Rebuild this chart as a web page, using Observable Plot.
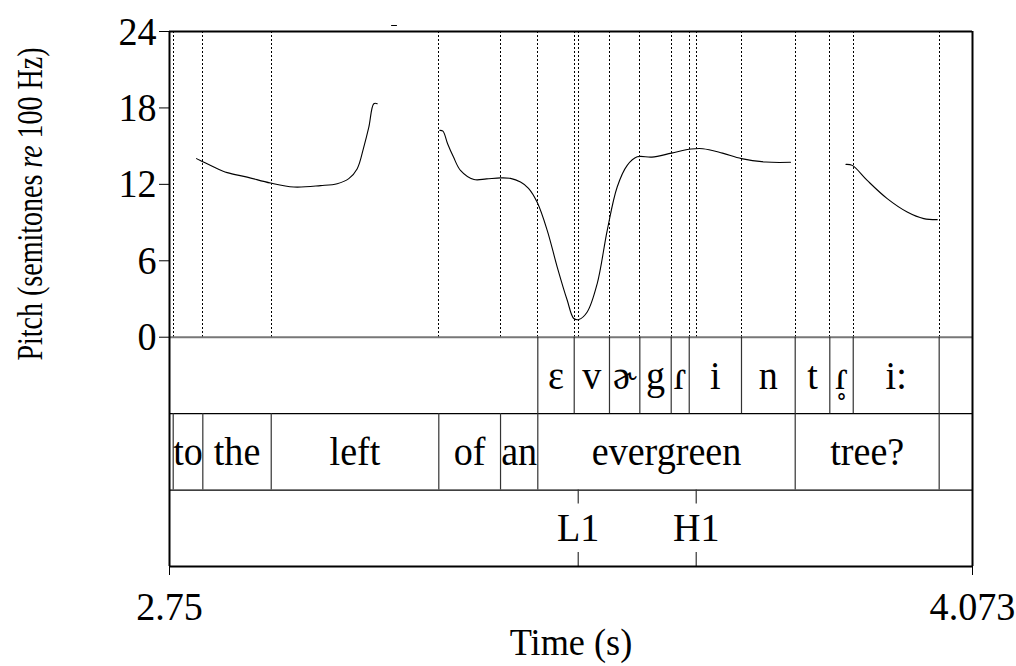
<!DOCTYPE html>
<html><head><meta charset="utf-8">
<script src="https://cdn.jsdelivr.net/npm/d3@7"></script>
<script src="https://cdn.jsdelivr.net/npm/@observablehq/plot@0.6"></script>
<style>body{margin:0;background:#fff}</style>
</head><body><div id="chart"></div>
<script>
// ---- data ----
const xDomain = [2.75, 4.073];
const xTicks = [2.75, 4.073];
const yTicks = [0, 6, 12, 18, 24];

// pitch contour segments (time s, semitones re 100 Hz)
const seg1Time = [2.7945, 2.8039, 2.8230, 2.8451, 2.8780, 2.9164, 2.9548, 2.9988, 3.0263, 3.0454, 3.0593, 3.0701, 3.0784, 3.0866, 3.0922];
const seg1Pitch = [14.02, 13.80, 13.36, 12.92, 12.57, 12.10, 11.79, 11.90, 12.05, 12.45, 13.23, 14.93, 16.49, 18.33, 18.33];
const seg2Time = [3.1158, 3.1240];
const seg2Pitch = [24.47, 24.47];
const seg3Time = [3.1954, 3.2005, 3.2082, 3.2179, 3.2294, 3.2517, 3.2723, 3.2954, 3.3118, 3.3283, 3.3415, 3.3558, 3.3723, 3.3888, 3.4053, 3.4161, 3.4244, 3.4382, 3.4547, 3.4712, 3.4876, 3.5041, 3.5206, 3.5448, 3.5771, 3.6094, 3.6288, 3.6611, 3.6924, 3.7325, 3.7732];
const seg3Pitch = [16.24, 16.18, 15.19, 14.14, 13.10, 12.38, 12.43, 12.51, 12.47, 12.18, 11.69, 10.59, 8.39, 5.51, 2.90, 1.47, 1.39, 1.98, 4.21, 8.39, 11.79, 13.49, 14.16, 14.14, 14.45, 14.77, 14.80, 14.45, 14.02, 13.75, 13.73];
const seg4Time = [3.8646, 3.8749, 3.8995, 3.9325, 3.9654, 3.9928, 4.0149];
const seg4Pitch = [13.57, 13.49, 12.31, 10.88, 9.83, 9.31, 9.23];

// phone tier
const phoneLabels = ["", "ɛ", "v", "ɚ", "g", "ɾ", "i", "n", "t", "ɾ̥", "i:", ""];
const phoneBounds = [2.75, 3.3568, 3.4168, 3.4749, 3.5249, 3.5766, 3.6063, 3.6924, 3.7809, 3.8379, 3.8765, 4.0181, 4.073];
// word tier
const wordLabels = ["", "to", "the", "left", "of", "an", "evergreen", "tree?", ""];
const wordBounds = [2.75, 2.7561, 2.8049, 2.9176, 3.1937, 3.2954, 3.3568, 3.7809, 4.0181, 4.073];
// tone tier (points)
const toneLabels = ["L1", "H1"];
const toneTimes = [3.4234, 3.6178];

// ---- build tables ----
const segs = [[seg1Time, seg1Pitch], [seg2Time, seg2Pitch], [seg3Time, seg3Pitch], [seg4Time, seg4Pitch]];
const pitch = segs.flatMap(([t, p], s) => t.map((ti, i) => ({t: ti, st: p[i], seg: s})));
const RING = "\u0325";
const intervals = (bounds, labels) => labels.map((l, i) => ({
  mid: (bounds[i] + bounds[i + 1]) / 2,
  label: l.replace(RING, ""),
  ring: l.includes(RING) ? "\u02F3" : ""
}));
const phones = intervals(phoneBounds, phoneLabels);
const words = intervals(wordBounds, wordLabels);
const tones = toneTimes.map((t, i) => ({t, label: toneLabels[i]}));
const phoneInner = phoneBounds.slice(1, -1);
const wordInner = wordBounds.slice(1, -1);
const dotTimes = Array.from(new Set([...phoneInner, ...wordInner, ...toneTimes])).sort((a, b) => a - b);

const FONT = "'Liberation Serif', 'Times New Roman', serif";
const FS = 41;

const chart = Plot.plot({
  width: 1016, height: 666,
  marginTop: 31, marginBottom: 100, marginLeft: 169, marginRight: 44,
  style: {fontFamily: FONT, color: "black", background: "white"},
  x: {domain: xDomain},
  y: {domain: [-18, 24]},
  marks: [
    Plot.ruleX(dotTimes, {y1: 0, y2: 24, stroke: "black", strokeWidth: 1, strokeDasharray: "2,2", shapeRendering: "crispEdges"}),
    Plot.line(pitch, {x: "t", y: "st", z: "seg", curve: "catmull-rom", stroke: "black", strokeWidth: 1.1}),
    Plot.ruleY([0], {stroke: "#777", strokeWidth: 2}),
    Plot.ruleY([-6, -12], {stroke: "black", strokeWidth: 1.2}),
    Plot.ruleX(phoneInner, {y1: 0, y2: -6, stroke: "#333", strokeWidth: 1.2}),
    Plot.ruleX(wordInner, {y1: -6, y2: -12, stroke: "#333", strokeWidth: 1.2}),
    Plot.ruleX(toneTimes, {y1: -12, y2: -13.1, stroke: "#333", strokeWidth: 1.2}),
    Plot.ruleX(toneTimes, {y1: -18, y2: -16.9, stroke: "#333", strokeWidth: 1.2}),
    Plot.text(phones, {x: "mid", y: -3, text: "label", fontSize: FS, fontFamily: FONT, fill: "black"}),
    Plot.text(phones.filter(d => d.ring), {x: "mid", y: -3, text: "ring", fontSize: 26, fontFamily: "'DejaVu Serif', serif", fill: "black", dy: 10}),
    Plot.text(words, {x: "mid", y: -9, text: "label", fontSize: FS, fontFamily: FONT, fill: "black"}),
    Plot.text(tones, {x: "t", y: -15, text: "label", fontSize: FS, fontFamily: FONT, fill: "black"}),
    Plot.ruleY([24, -18], {stroke: "black", strokeWidth: 2}),
    Plot.ruleX(xDomain, {y1: -18, y2: 24, stroke: "black", strokeWidth: 2}),
    Plot.axisY(yTicks, {tickSize: 10, tickPadding: 3, fontSize: FS, label: null, tickFormat: d => String(d)}),
    Plot.axisX(xTicks, {tickSize: 9, tickPadding: 15, fontSize: FS, label: null, tickFormat: d => String(d)})
  ]
});
document.getElementById("chart").appendChild(chart);

// slightly condensed glyphs, as in the reference
d3.select(chart).selectAll("text").each(function () {
  const tr = this.getAttribute("transform");
  if (tr && tr.includes("translate")) this.setAttribute("transform", tr + " scale(0.93,1)");
});

// axis titles (with italic "re")
const svg = d3.select(chart);
const yl = svg.append("text")
  .attr("transform", "translate(42,204) rotate(-90) scale(0.8,1)")
  .attr("text-anchor", "middle")
  .attr("font-family", FONT).attr("font-size", 35).attr("fill", "black");
yl.append("tspan").text("Pitch (semitones ");
yl.append("tspan").attr("font-style", "italic").text("re");
yl.append("tspan").text(" 100 Hz)");
svg.append("text")
  .attr("transform", "translate(571,655) scale(0.93,1)")
  .attr("text-anchor", "middle")
  .attr("font-family", FONT).attr("font-size", 39).attr("fill", "black")
  .text("Time (s)");
</script>
</body></html>
